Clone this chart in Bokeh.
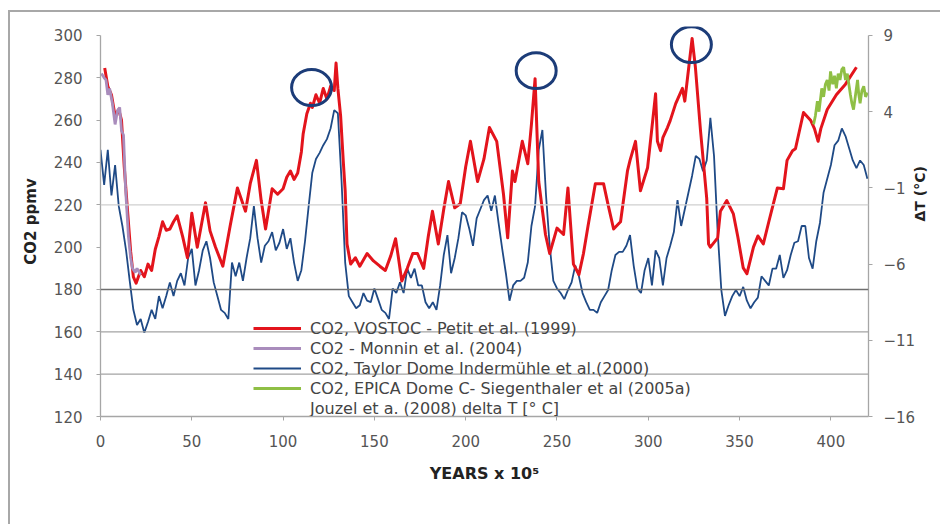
from bokeh.plotting import figure
from bokeh.models import Range1d, LinearAxis, FixedTicker, Span, Legend, LegendItem
from bokeh.embed import file_html
from bokeh.resources import INLINE

# ---------------- data ----------------
# Vostok CO2 (Petit et al. 1999): age (kyr BP), CO2 (ppmv)
vostok_kyr = [2.3, 4, 6, 8, 10, 11.5, 13, 15, 16.5, 18, 19.5, 22, 24, 26, 28, 30, 32, 34, 36, 38,
              40, 42, 45, 47.6, 50, 53, 57.5, 60, 63, 67, 71, 75, 79.4, 82, 85.4, 88, 90.4, 94, 97, 100,
              102, 104, 106, 108, 110, 111, 113, 115, 116, 118, 120, 122, 124, 126, 128, 129, 130, 131.5, 133, 134,
              135, 137, 139.6, 142, 146, 149.5, 153, 156, 159, 161.6, 163, 165, 168, 171, 173.6, 177, 179.5, 181.8, 185, 188,
              190.6, 194, 197, 200, 202.6, 206.5, 210, 213, 217, 220.7, 223, 225.6, 227, 231, 234, 236, 238, 240, 243.7, 246,
              250, 253.6, 256, 259, 262, 264.5, 267, 271, 275.5, 278, 281, 284.8, 288.6, 290, 293, 295.7, 299.6, 302, 304, 305,
              306.7, 308, 310.5, 312, 315, 318.7, 320, 324, 325.8, 328.6, 332, 333, 334, 338, 339.5, 343, 346.6, 349, 352, 354,
              357.6, 360, 363, 366, 370.7, 374, 376, 379, 380.6, 385, 389, 391, 393, 394.5, 398, 403, 408, 414]
vostok_co2 = [284.7, 276, 272, 262, 265, 260, 238, 215, 198, 186, 183, 189, 186, 192, 189, 199, 205, 212, 208, 208.6,
              212, 214.8, 205, 195, 216, 200, 221, 207.7, 200, 191, 210, 228, 217, 230, 241, 222, 208.6, 227.6, 225, 227.6,
              233, 236, 232, 235, 245, 253.6, 263, 268, 266, 272, 268, 275, 270, 276, 274, 287, 275, 262, 240, 226.6,
              201.5, 192, 195, 191, 197, 193.5, 191, 189, 196, 204, 196, 184, 190, 197, 197, 190, 205, 217, 201.5, 218,
              231, 218.6, 220.5, 238, 250, 231, 241.7, 256.5, 250, 225, 204.4, 236, 231, 250, 239.4, 258, 279.6, 231, 206, 197,
              209, 206, 228, 192, 187, 197, 210, 230, 230, 220, 208.6, 212, 236, 241, 250, 226.6, 237.5, 256.5, 272.5, 250,
              245.6, 251.7, 256.5, 259.8, 267.8, 275, 269, 298.6, 285, 255, 223, 201.5, 200, 204.4, 217, 222, 215.7, 205, 190.2, 187.4,
              200, 205.3, 201.5, 212, 228, 227.6, 241, 245.6, 246.5, 263.6, 259.8, 256, 250, 256, 265, 272, 277, 285]

# Monnin et al. (2004) CO2
monnin_kyr = [0.5, 2, 3, 4, 5, 6.5, 8, 9.3, 10.5, 11.5, 12.6, 13.7, 15.3, 16.5, 17.5, 19, 20, 22]
monnin_co2 = [282, 280, 279, 272, 275, 268, 258, 264.5, 266, 255, 253, 228, 205, 195, 190, 188, 190, 187]

# EPICA Dome C CO2 (Siegenthaler et al. 2005a)
epica_kyr = [390.5, 391.5, 392.6, 393.5, 395, 396, 397, 398, 399, 399.8, 401, 402, 403, 404, 405, 406, 407, 408,
             409, 410, 410.7, 411.5, 412.4, 413.5, 414.6, 415.3, 416, 417, 418, 419, 420]
epica_co2 = [258, 262, 269, 264, 275, 271, 277, 279, 274, 283, 277, 281, 275, 282, 279, 284, 285, 279,
             282, 276, 272, 268, 265, 272, 279, 272, 268, 274, 276, 271, 273]

# Jouzel et al. temperature anomaly (deg C), every 2 kyr from 0 to 420 kyr
jouzel_kyr = list(range(0, 421, 2))
jouzel_dt = [1.5, -0.8, 1.5, -1.5, 0.5, -2.2, -3.5, -5.1, -7.1, -9.0,
             -10.0, -9.6, -10.5, -9.8, -9.0, -9.6, -8.1, -8.9, -8.1, -7.2,
             -8.1, -7.1, -6.6, -7.4, -5.6, -5.0, -7.4, -6.4, -5.1, -4.5,
             -5.6, -7.2, -8.1, -9.0, -9.2, -9.6, -5.9, -6.8, -5.9, -7.1,
             -5.6, -4.3, -2.2, -4.3, -5.9, -4.8, -4.5, -3.9, -5.1, -4.6,
             -3.7, -5.0, -4.3, -5.9, -7.1, -6.4, -4.5, -2.2, 0.0, 0.9,
             1.3, 1.8, 2.2, 2.9, 4.1, 3.9, -0.5, -5.9, -8.1, -8.5,
             -8.9, -8.7, -7.9, -8.4, -8.5, -7.6, -8.3, -9.0, -9.2, -9.6,
             -7.6, -7.9, -7.2, -7.9, -6.3, -6.9, -6.3, -7.4, -7.4, -8.5,
             -8.9, -8.5, -9.0, -7.4, -5.4, -4.1, -6.6, -5.6, -4.3, -2.6,
             -2.8, -3.7, -4.8, -3.0, -2.4, -1.8, -1.5, -2.5, -1.5, -3.3,
             -5.0, -6.6, -8.4, -7.4, -7.1, -7.1, -6.9, -5.9, -3.5, -2.2,
             1.5, 2.8, -1.5, -4.8, -7.1, -7.6, -7.9, -8.3, -7.7, -7.2,
             -6.1, -6.8, -7.9, -8.5, -9.0, -9.0, -9.2, -8.5, -8.1, -7.7,
             -6.4, -5.4, -5.2, -5.2, -4.8, -4.1, -6.1, -7.6, -7.9, -6.4,
             -5.6, -7.4, -5.1, -5.6, -7.4, -5.6, -4.8, -3.9, -1.8, -3.5,
             -2.4, -1.3, -0.2, 1.1, 0.9, 0.1, 0.8, 3.6, 1.1, -3.9,
             -7.7, -9.4, -8.7, -8.1, -7.7, -8.1, -7.5, -8.4, -8.9, -8.5,
             -8.2, -6.8, -7.1, -7.4, -6.3, -6.3, -5.4, -6.9, -6.4, -5.4,
             -4.6, -4.5, -3.5, -3.5, -5.6, -6.3, -4.5, -3.3, -1.3, -0.4,
             0.5, 1.8, 2.1, 2.9, 2.4, 1.6, 0.8, 0.3, 0.8, 0.5,
             -0.4]

# highlighted interglacial peaks (kyr, ppmv)
highlight_kyr = [115.6, 238.6, 323.6]
highlight_co2 = [275.4, 283.4, 295.7]

legend_labels = ["CO2, VOSTOC - Petit et al. (1999)",
                 "CO2 - Monnin et al. (2004)",
                 "CO2, Taylor Dome Indermühle et al.(2000)",
                 "CO2, EPICA Dome C- Siegenthaler et al (2005a)",
                 "Jouzel et a. (2008) delta T [° C]"]

x_title = "YEARS x 10⁵"
y_title = "CO2 ppmv"
y2_title = "ΔT (°C)"

co2_ticks = [120, 140, 160, 180, 200, 220, 240, 260, 280, 300]
dt_ticks = [-16, -11, -6, -1, 4, 9]
year_ticks = [0, 50, 100, 150, 200, 250, 300, 350, 400]
grid_levels = [220, 180, 160, 140]
grid_colors = ["#cfcfcf", "#6f6f6f", "#a3a3a3", "#a3a3a3"]

# ---------------- figure ----------------
FONT = "DejaVu Sans"
p = figure(width=932, height=514, output_backend="svg", toolbar_location=None,
           x_range=Range1d(0, 420.6), y_range=Range1d(120, 304.25),
           min_border_left=90, min_border_right=74, min_border_top=14, min_border_bottom=110,
           background_fill_color="white", border_fill_color="white")
p.outline_line_color = None
p.xgrid.visible = False
p.ygrid.visible = False
p.styles = {"margin-left": "8px", "margin-top": "10px",
            "border-left": "2px solid #a8a8a8", "border-top": "2px solid #a8a8a8"}

p.extra_y_ranges = {"dt": Range1d(-16, 9.5903)}

for lvl, col in zip(grid_levels, grid_colors):
    p.add_layout(Span(location=lvl, dimension="width", line_color=col, line_width=1.3))

# temperature series (right axis)
r_dt = p.line(jouzel_kyr, jouzel_dt, y_range_name="dt", line_color="#1f4a86", line_width=1.8)
# CO2 series
r_vostok = p.line(vostok_kyr, vostok_co2, line_color="#e3141c", line_width=3, line_join="round")
r_monnin = p.line(monnin_kyr, monnin_co2, line_color="#a98cbc", line_width=2.8)
r_epica = p.line(epica_kyr, epica_co2, line_color="#8fbf45", line_width=2.8)
r_jouzel = p.line([], [], line_color=None)

p.ellipse(highlight_kyr, highlight_co2, width=21.9, height=17.0, fill_alpha=0,
          line_color="#1c3c78", line_width=3)

# axes
xa = p.xaxis[0]
xa.ticker = FixedTicker(ticks=year_ticks)
ya = p.yaxis[0]
ya.ticker = FixedTicker(ticks=co2_ticks)
ya.axis_label = y_title
ya.bounds = (120, 300)
ra = LinearAxis(y_range_name="dt", ticker=FixedTicker(ticks=dt_ticks), bounds=(-16, 9),
                axis_label=y2_title, axis_label_orientation=1.5708)
p.add_layout(ra, "right")

for ax in (xa, ya, ra):
    ax.axis_line_color = "#a6a6a6"
    ax.axis_line_width = 1.3
    ax.major_tick_line_color = "#a6a6a6"
    ax.major_tick_in = 0
    ax.major_tick_out = 4
    ax.minor_tick_line_color = None
    ax.major_label_text_font = FONT
    ax.major_label_text_font_size = "15px"
    ax.major_label_text_color = "#555555"
    ax.major_label_standoff = 14
    ax.axis_label_text_font = FONT
    ax.axis_label_text_font_style = "bold"
    ax.axis_label_text_color = "#222222"
    ax.axis_label_text_font_size = "15px"

ya.axis_label_standoff = 11
ra.major_label_standoff = 11
ra.axis_label_standoff = 2
ra.axis_label_text_font_size = "14px"

# title-only axis below (no line, no ticks): its label sits at the middle of its bounds
xt = LinearAxis(ticker=FixedTicker(ticks=[]), bounds=(179.9, 219.9), axis_label=x_title,
                axis_line_color=None, major_tick_line_color=None, minor_tick_line_color=None,
                axis_label_standoff=14, axis_label_text_font=FONT, axis_label_text_font_size="16px",
                axis_label_text_font_style="bold", axis_label_text_color="#222222")
p.add_layout(xt, "below")

legend = Legend(items=[LegendItem(label=legend_labels[0], renderers=[r_vostok]),
                       LegendItem(label=legend_labels[1], renderers=[r_monnin]),
                       LegendItem(label=legend_labels[2], renderers=[r_dt]),
                       LegendItem(label=legend_labels[3], renderers=[r_epica]),
                       LegendItem(label=legend_labels[4], renderers=[r_jouzel])],
                location=(153, -2), background_fill_alpha=0, border_line_color=None,
                padding=2, spacing=0, glyph_width=48, glyph_height=20, label_height=20,
                label_standoff=9, label_text_font=FONT, label_text_font_size="16px",
                label_text_color="#444444")
p.add_layout(legend)

open("out.html", "w").write(file_html(p, INLINE))
